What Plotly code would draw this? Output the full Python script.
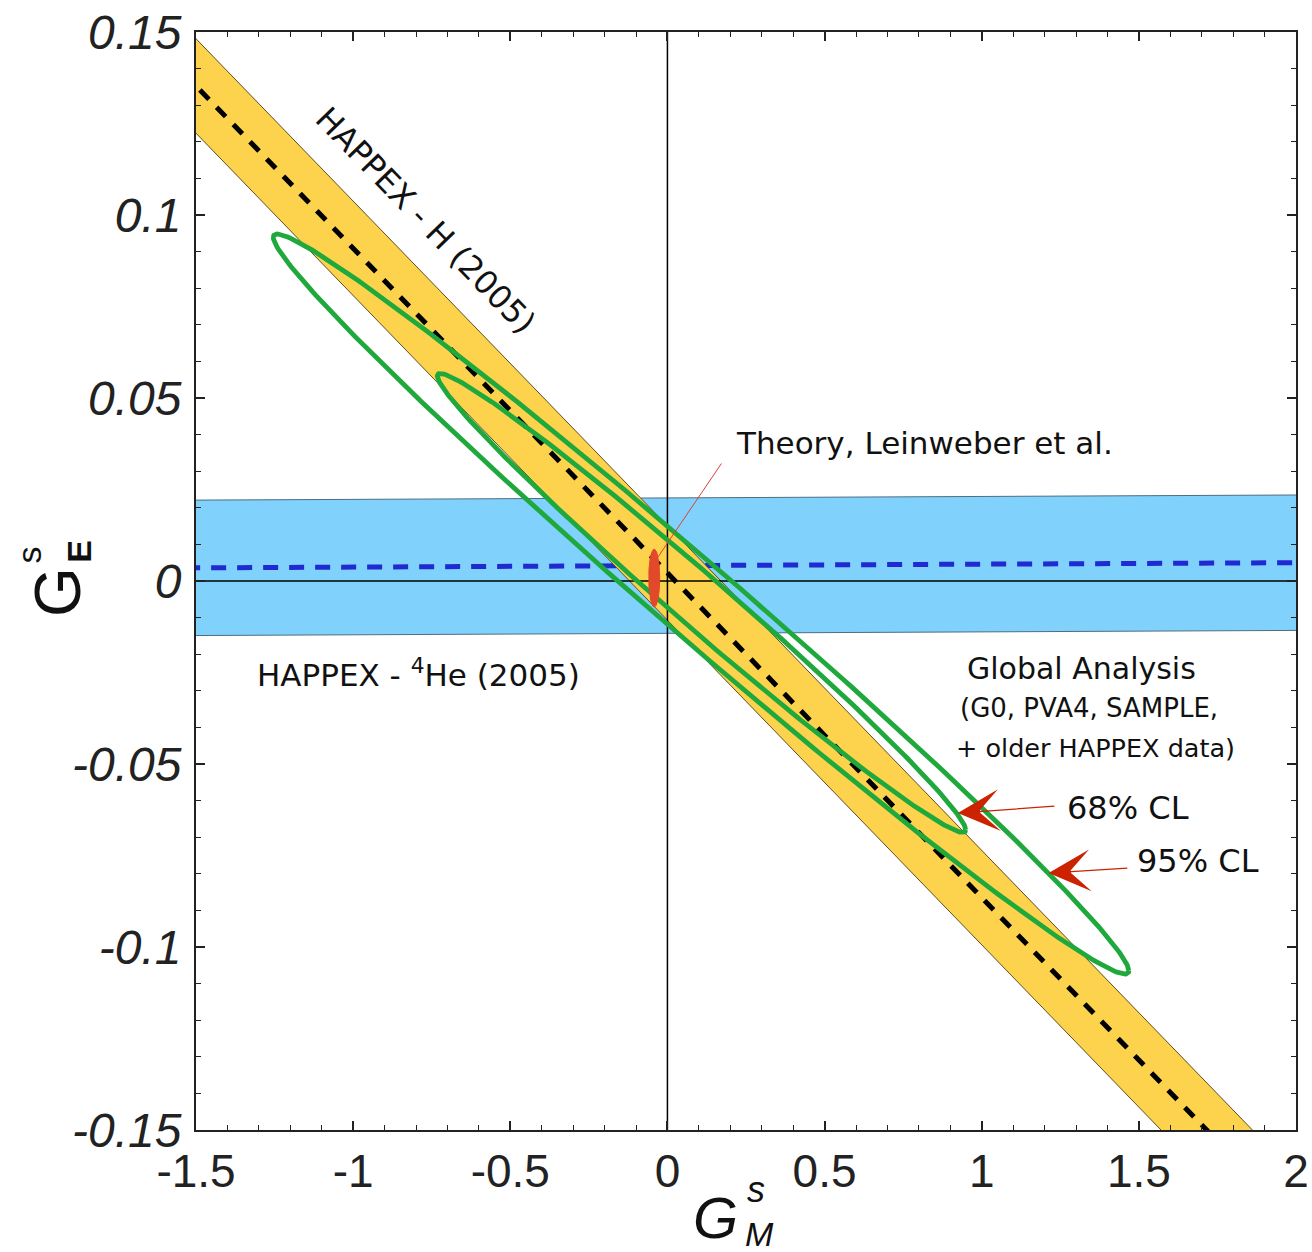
import numpy as np
import plotly.graph_objects as go

# ---------------- data ----------------
X_RANGE = [-1.5, 2.0]
Y_RANGE = [-0.15, 0.15]
x_tick_vals = [-1.5, -1, -0.5, 0, 0.5, 1, 1.5, 2]
x_tick_text = ["-1.5", "-1", "-0.5", "0", "0.5", "1", "1.5", "2"]
y_tick_vals = [0.15, 0.1, 0.05, 0, -0.05, -0.1, -0.15]
y_tick_text = ["<i>0.15</i>", "<i>0.1</i>", "<i>0.05</i>", "<i>0</i>",
               "<i>-0.05</i>", "<i>-0.1</i>", "<i>-0.15</i>"]

# HAPPEX-H (2005) band: G_E = intercept + slope*G_M +/- half
h_intercept = 0.0022
h_slope = -0.0887
h_half = 0.0129

# HAPPEX-4He (2005) band
he_intercept = 0.0042
he_slope = 0.0004
he_half = 0.0185

# Global analysis ellipses (95% CL, 68% CL)
ell_names = ["95% CL", "68% CL"]
ell_cx = [0.107, 0.1085]       # centre G_M
ell_cy = [-0.0063, -0.0060]    # centre G_E
ell_ax = [1.361, 0.8405]       # half extent along G_M
ell_tip_dy = [-0.1002, -0.062] # G_E offset at the G_M extreme
ell_chord = [0.0135, 0.0094]   # half vertical chord at centre

# Theory (Leinweber et al.)
th_cx, th_cy, th_rx, th_ry = -0.042, 0.0008, 0.0175, 0.0079

# ---------------- figure ----------------
YELLOW = "#FDD34D"
BLUE = "#80D1FB"
GREEN = "#1FA83C"
RED = "#E2482A"
ARROW_RED = "#CC2200"

fig = go.Figure()
xs = np.array([X_RANGE[0] - 0.2, X_RANGE[1] + 0.2])

# He band
he_c = he_intercept + he_slope * xs
fig.add_trace(go.Scatter(
    x=list(xs) + list(xs[::-1]),
    y=list(he_c + he_half) + list((he_c - he_half)[::-1]),
    fill="toself", fillcolor=BLUE, mode="lines",
    line=dict(color="#4F6E80", width=1), hoverinfo="skip"))
fig.add_trace(go.Scatter(x=xs, y=he_c, mode="lines",
                         line=dict(color="#1F2BD0", width=5, dash="15px,11px")))

# H band
h_c = h_intercept + h_slope * xs
fig.add_trace(go.Scatter(
    x=list(xs) + list(xs[::-1]),
    y=list(h_c + h_half) + list((h_c - h_half)[::-1]),
    fill="toself", fillcolor=YELLOW, mode="lines",
    line=dict(color="#5E4E22", width=1), hoverinfo="skip"))
fig.add_trace(go.Scatter(x=xs, y=h_c, mode="lines",
                         line=dict(color="black", width=5, dash="13px,11px")))

# zero lines
fig.add_trace(go.Scatter(x=X_RANGE, y=[0, 0], mode="lines",
                         line=dict(color="black", width=1.5)))
fig.add_trace(go.Scatter(x=[0, 0], y=Y_RANGE, mode="lines",
                         line=dict(color="black", width=1.5)))

# ellipses
t = np.linspace(0, 2 * np.pi, 400)
for cx, cy, ax, dy, ch in zip(ell_cx, ell_cy, ell_ax, ell_tip_dy, ell_chord):
    fig.add_trace(go.Scatter(
        x=cx + ax * np.cos(t),
        y=cy + dy * np.cos(t) + ch * np.sin(t),
        mode="lines", line=dict(color=GREEN, width=4.8)))

fig.add_trace(go.Scatter(
    x=th_cx + th_rx * np.cos(t), y=th_cy + th_ry * np.sin(t),
    fill="toself", fillcolor=RED, mode="lines", line=dict(color=RED, width=1)))

TXT = dict(family="DejaVu Sans", color="#111111")

annotations = [
    dict(x=-0.771, y=0.0986, text="HAPPEX - H (2005)", textangle=46,
         font=dict(size=32, **TXT)),
    dict(x=-0.793, y=-0.0251, text="HAPPEX - <sup>4</sup>He (2005)",
         font=dict(size=31, **TXT)),
    dict(x=0.818, y=0.0377, text="Theory, Leinweber et al.",
         font=dict(size=31, **TXT)),
    dict(x=1.318, y=-0.0238, text="Global Analysis", font=dict(size=30, **TXT)),
    dict(x=1.341, y=-0.0347, text="(G0, PVA4, SAMPLE,", font=dict(size=26, **TXT)),
    dict(x=1.363, y=-0.0456, text="+ older HAPPEX data)", font=dict(size=25.5, **TXT)),
    dict(x=1.465, y=-0.0620, text="68% CL", font=dict(size=32, **TXT)),
    dict(x=1.688, y=-0.0765, text="95% CL", font=dict(size=32, **TXT)),
]
for a in annotations:
    a.update(xref="x", yref="y", showarrow=False, xanchor="center", yanchor="middle")

# theory pointer line
annotations.append(dict(x=-0.032, y=0.0063, ax=0.175, ay=0.0325,
                        xref="x", yref="y", axref="x", ayref="y", text="",
                        showarrow=True, arrowhead=0, arrowwidth=1,
                        arrowcolor="#E04030", standoff=0))
# CL arrows
annotations.append(dict(x=0.924, y=-0.0634, ax=1.236, ay=-0.0615,
                        xref="x", yref="y", axref="x", ayref="y", text="",
                        showarrow=True, arrowhead=3, arrowwidth=1.2, arrowsize=5.8,
                        arrowcolor=ARROW_RED, standoff=0))
annotations.append(dict(x=1.213, y=-0.0798, ax=1.468, ay=-0.0784,
                        xref="x", yref="y", axref="x", ayref="y", text="",
                        showarrow=True, arrowhead=3, arrowwidth=1.2, arrowsize=5.8,
                        arrowcolor=ARROW_RED, standoff=0))

# axis titles
LAB = dict(family="Liberation Sans", color="#111111")
annotations += [
    dict(x=-0.1255, y=0.49, text="G", textangle=-90, font=dict(size=64, **LAB)),
    dict(x=-0.106, y=0.527, text="<b>E</b>", textangle=-90, font=dict(size=34, **LAB)),
    dict(x=-0.152, y=0.524, text="s", textangle=-90, font=dict(size=34, **LAB)),
    dict(x=0.4727, y=-0.080, text="<i>G</i>", font=dict(size=58, **LAB)),
    dict(x=0.509, y=-0.0546, text="<i>s</i>", font=dict(size=36, **LAB)),
    dict(x=0.512, y=-0.0945, text="<i>M</i>", font=dict(size=34, **LAB)),
]
for a in annotations[-6:]:
    a.update(xref="paper", yref="paper", showarrow=False,
             xanchor="center", yanchor="middle")

axis_common = dict(
    showgrid=False, zeroline=False, showline=True, linewidth=2,
    linecolor="#222222", mirror="ticks", ticks="inside", ticklen=9,
    tickwidth=1.5, tickcolor="#222222", automargin=False,
    ticklabeloverflow="allow",
)

fig.update_layout(
    width=1312, height=1252,
    margin=dict(l=196, r=16, t=32, b=122, autoexpand=False),
    plot_bgcolor="white", paper_bgcolor="white",
    showlegend=False,
    annotations=annotations,
    xaxis=dict(range=X_RANGE, tickmode="array", tickvals=x_tick_vals,
               ticktext=x_tick_text,
               tickfont=dict(family="Liberation Sans", size=46, color="#222222"),
               minor=dict(tickmode="linear", tick0=0, dtick=0.1, ticks="inside",
                          ticklen=5, tickwidth=1, tickcolor="#222222", showgrid=False),
               **axis_common),
    yaxis=dict(range=Y_RANGE, tickmode="array", tickvals=y_tick_vals,
               ticktext=y_tick_text, ticklabelstandoff=3,
               tickfont=dict(family="Liberation Sans", size=48, color="#222222"),
               minor=dict(tickmode="linear", tick0=0, dtick=0.01, ticks="inside",
                          ticklen=5, tickwidth=1, tickcolor="#222222", showgrid=False),
               **axis_common),
)

# remove the default page margin so the figure sits at the window's top-left
fig.write_html("out.html",
               config={"displayModeBar": False},
               post_script="document.body.style.margin='0';"
                           "document.body.style.overflow='hidden';")
